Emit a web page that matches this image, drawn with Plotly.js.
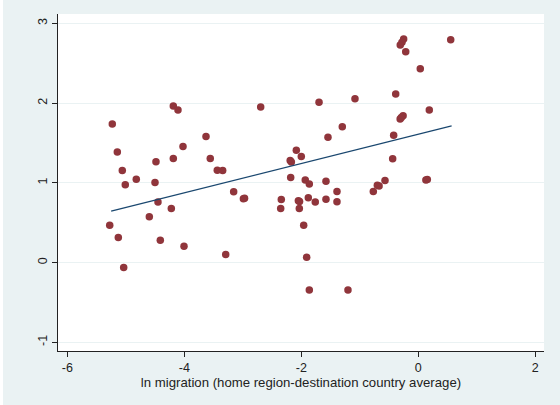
<!DOCTYPE html>
<html>
<head>
<meta charset="utf-8">
<script src="https://cdn.plot.ly/plotly-3.0.1.min.js"></script>
<style>
  html, body { margin: 0; padding: 0; background: #ffffff; }
  #chart { position: absolute; left: 3px; top: 0; width: 557px; height: 405px; }
</style>
</head>
<body>
<div id="chart"></div>
<script>
// Scatter data: ln migration (x) vs outcome (y)
const migration = [
  -5.231, -4.188, -4.108, -5.145, -3.629, -4.022, -5.060, -4.484, -4.188, -3.556,
  -3.436, -3.344, -5.009, -4.821, -4.501, -3.156, -2.970, -2.990, -4.450, -4.222,
  -4.598, -5.275, -5.128, -4.410, -4.005, -3.292, -5.036, -2.694, -1.697, -1.082,
  -1.299, -1.544, -2.085, -2.000, -2.190, -2.170, -2.181, -1.932, -1.863, -1.578,
  -2.342, -2.352, -2.050, -2.030, -2.034, -1.880, -1.761, -1.578, -1.390, -1.390,
  -1.959, -1.908, -1.863, -1.202, -0.769, -0.700, -0.670, -0.569, 0.154, 0.130,
  -0.438, -0.421, -0.260, -0.310, -0.290, 0.188, -0.386, 0.034, -0.250, -0.279,
  -0.308, -0.215, 0.554
];
const outcome = [
  1.737, 1.962, 1.912, 1.385, 1.582, 1.457, 1.156, 1.264, 1.306, 1.306,
  1.159, 1.156, 0.975, 1.046, 1.005, 0.887, 0.808, 0.800, 0.758, 0.679,
  0.573, 0.469, 0.315, 0.281, 0.206, 0.100, -0.063, 1.950, 2.009, 2.054,
  1.703, 1.573, 1.407, 1.331, 1.280, 1.260, 1.068, 1.034, 0.984, 1.021,
  0.792, 0.679, 0.775, 0.765, 0.679, 0.812, 0.758, 0.795, 0.892, 0.762,
  0.469, 0.068, -0.343, -0.343, 0.892, 0.970, 0.960, 1.030, 1.043, 1.035,
  1.301, 1.595, 1.840, 1.800, 1.820, 1.912, 2.113, 2.430, 2.803, 2.762,
  2.728, 2.644, 2.794
];
// Fitted line
const fitX = [-5.25, 0.57];
const fitY = [0.645, 1.715];

// Tick labels
const xTicks = [-6, -4, -2, 0, 2];
const yTicks = [-1, 0, 1, 2, 3];
const xTitle = 'ln migration (home region-destination country average)';

const bg = 'rgb(234,242,243)';
const font = { family: 'Liberation Sans, Arial, sans-serif', size: 12, color: '#222' };

const traces = [
  {
    x: migration, y: outcome, type: 'scatter', mode: 'markers',
    marker: { color: 'rgb(144,53,59)', size: 7.5, line: { width: 0 } },
    hoverinfo: 'skip', showlegend: false
  },
  {
    x: fitX, y: fitY, type: 'scatter', mode: 'lines',
    line: { color: 'rgb(26,71,111)', width: 1.2 },
    hoverinfo: 'skip', showlegend: false
  }
];

const layout = {
  width: 557, height: 405,
  margin: { l: 55, r: 16, t: 14, b: 54, pad: 0 },
  paper_bgcolor: bg, plot_bgcolor: '#ffffff',
  font: font,
  showlegend: false,
  xaxis: {
    range: [-6.159, 2.149],
    tickvals: xTicks, ticktext: xTicks.map(String),
    ticks: 'outside', ticklen: 5, tickwidth: 1, tickcolor: '#222',
    showline: true, linecolor: '#222', linewidth: 1,
    showgrid: false, zeroline: false,
    tickfont: { family: font.family, size: 12.5, color: '#222' },
    title: { text: xTitle, standoff: 3, font: { family: font.family, size: 13.2, color: '#222' } }
  },
  yaxis: {
    range: [-1.109, 3.117],
    tickvals: yTicks, ticktext: yTicks.map(String),
    tickangle: -90,
    ticks: 'outside', ticklen: 5, tickwidth: 1, tickcolor: '#222',
    showline: true, linecolor: '#222', linewidth: 1,
    showgrid: true, gridcolor: bg, gridwidth: 1,
    zeroline: false,
    tickfont: { family: font.family, size: 12.5, color: '#222' }
  }
};

Plotly.newPlot('chart', traces, layout, { displayModeBar: false, staticPlot: true });
</script>
</body>
</html>
